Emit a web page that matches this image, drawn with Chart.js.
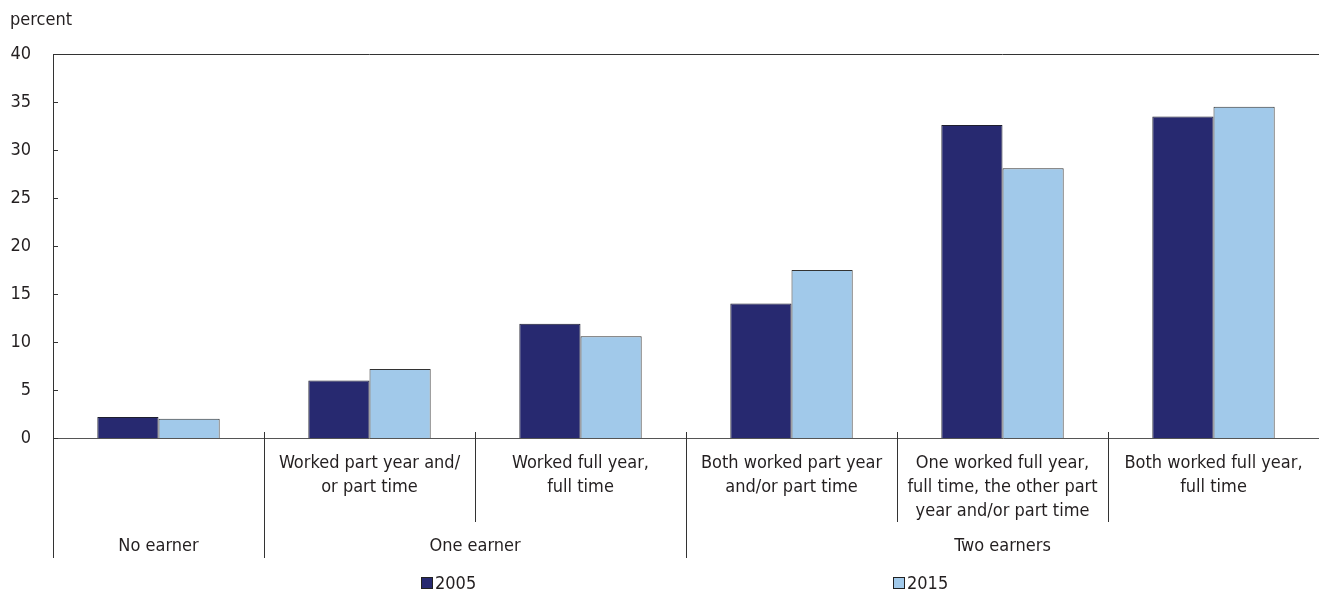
<!DOCTYPE html>
<html>
<head>
<meta charset="utf-8">
<script src="https://cdn.jsdelivr.net/npm/chart.js@4.4.0/dist/chart.umd.min.js"></script>
<style>
  html, body { margin: 0; padding: 0; background: #fff; }
  #wrap { width: 1319px; height: 593px; position: relative; }
</style>
</head>
<body>
<div id="wrap"><canvas id="myBarChart"></canvas></div>
<script>
// 데이터
const categories = [
  [''],
  ['Worked part year and/', 'or part time'],
  ['Worked full year,', 'full time'],
  ['Both worked part year', 'and/or part time'],
  ['One worked full year,', 'full time, the other part', 'year and/or part time'],
  ['Both worked full year,', 'full time']
];
const groupLabels = ['No earner', 'One earner', 'Two earners'];
const groupStarts = [0, 1, 3];
const groupEnds = [1, 3, 6];
const values2005 = [2.2, 6.0, 11.9, 14.0, 32.6, 33.5];
const values2015 = [2.0, 7.2, 10.6, 17.5, 28.1, 34.5];
const yMax = 40;
const yStep = 5;

const FONT = '"DejaVu Sans Condensed", "Liberation Sans Narrow", "Liberation Sans", sans-serif';
const TEXT = '#231f20';

Chart.defaults.font.family = FONT;
Chart.defaults.font.size = 18;
Chart.defaults.color = TEXT;

// 추가 그리기 (테두리, 구분선, 그룹 라벨, 범례)
const extras = {
  id: 'extras',
  afterDraw(chart) {
    const ctx = chart.ctx;
    const area = chart.chartArea;
    const x = chart.scales.x;
    const y = chart.scales.y;
    ctx.save();
    ctx.strokeStyle = '#333';
    ctx.lineWidth = 1;

    // 위쪽 테두리
    ctx.beginPath();
    ctx.moveTo(area.left, area.top + 0.5);
    ctx.lineTo(area.right, area.top + 0.5);
    ctx.stroke();

    // 안쪽 눈금
    y.ticks.forEach(t => {
      const py = Math.round(y.getPixelForValue(t.value)) + 0.5;
      ctx.beginPath();
      ctx.moveTo(area.left, py);
      ctx.lineTo(area.left + 5, py);
      ctx.stroke();
    });

    // 카테고리 구분선
    const boundary = i => i === 0 ? area.left :
      (x.getPixelForValue(i - 1) + x.getPixelForValue(i)) / 2;
    for (let i = 0; i < categories.length; i++) {
      const bx = Math.round(boundary(i)) + 0.5;
      const long = groupStarts.includes(i);
      ctx.beginPath();
      ctx.moveTo(bx, area.bottom - 6);
      ctx.lineTo(bx, long ? area.bottom + 120 : area.bottom + 84);
      ctx.stroke();
    }

    // 그룹 라벨
    ctx.fillStyle = TEXT;
    ctx.font = '18px ' + FONT;
    ctx.textAlign = 'center';
    ctx.textBaseline = 'middle';
    groupLabels.forEach((g, k) => {
      const l = boundary(groupStarts[k]);
      const r = groupEnds[k] >= categories.length ? area.right : boundary(groupEnds[k]);
      ctx.fillText(g, (l + r) / 2, area.bottom + 108);
    });

    // percent
    ctx.textAlign = 'left';
    ctx.fillText('percent', 10, 20);

    // 범례
    const legendX = [421, 893];
    chart.data.datasets.forEach((ds, k) => {
      const lx = legendX[k];
      const ly = 577;
      ctx.fillStyle = ds.backgroundColor;
      ctx.fillRect(lx, ly, 12, 12);
      ctx.strokeStyle = '#222';
      ctx.strokeRect(lx + 0.5, ly + 0.5, 11, 11);
      ctx.fillStyle = TEXT;
      ctx.textAlign = 'left';
      ctx.fillText(ds.label, lx + 14, ly + 7);
    });
    ctx.restore();
  }
};

const ctx = document.getElementById('myBarChart').getContext('2d');
const myBarChart = new Chart(ctx, {
  type: 'bar',
  data: {
    labels: categories,
    datasets: [{
      label: '2005',
      data: values2005,
      backgroundColor: '#272970',
      borderColor: '#1e1e2e',
      borderWidth: 1,
      categoryPercentage: 0.58,
      barPercentage: 1
    }, {
      label: '2015',
      data: values2015,
      backgroundColor: '#a1c9ea',
      borderColor: '#333333',
      borderWidth: 1,
      categoryPercentage: 0.58,
      barPercentage: 1
    }]
  },
  options: {
    responsive: true,
    maintainAspectRatio: false,
    animation: false,
    layout: { padding: { top: 54, right: 0, bottom: 35, left: 0 } },
    plugins: {
      legend: { display: false },
      tooltip: { enabled: false }
    },
    scales: {
      x: {
        grid: { display: false },
        border: { display: true, color: '#555' },
        ticks: { maxRotation: 0, autoSkip: false, padding: 5, color: TEXT, font: { lineHeight: 1.33 } },
        afterFit(scale) { scale.height = 120; }
      },
      y: {
        min: 0,
        max: yMax,
        grid: { display: false },
        border: { display: true, color: '#333' },
        ticks: { stepSize: yStep, padding: 14, color: TEXT },
        afterFit(scale) { scale.width = 53; }
      }
    }
  },
  plugins: [extras]
});
</script>
</body>
</html>
